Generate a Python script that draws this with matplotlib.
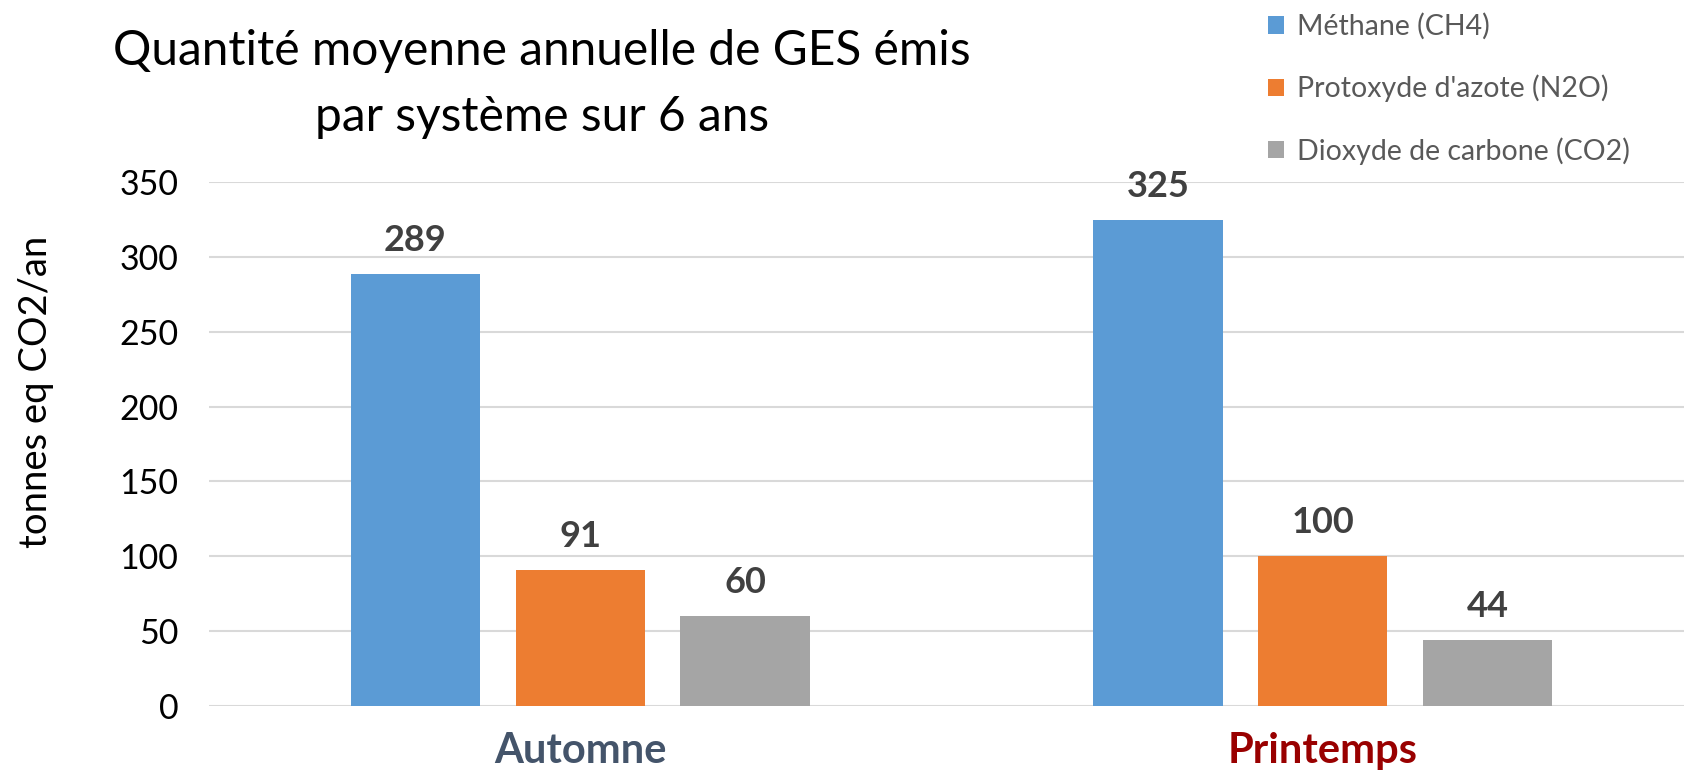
import matplotlib
matplotlib.use("Agg")
import matplotlib.pyplot as plt
import numpy as np

categories = ["Automne", "Printemps"]
series_names = ["Méthane (CH4)", "Protoxyde d'azote (N2O)", "Dioxyde de carbone (CO2)"]
values = {
    "Méthane (CH4)": [289, 325],
    "Protoxyde d'azote (N2O)": [91, 100],
    "Dioxyde de carbone (CO2)": [60, 44],
}
colors = ["#5B9BD5", "#ED7D31", "#A5A5A5"]
cat_colors = ["#44546A", "#990000"]
yticks = [0, 50, 100, 150, 200, 250, 300, 350]
title = "Quantité moyenne annuelle de GES émis\npar système sur 6 ans"
ylabel = "tonnes eq CO2/an"

plt.rcParams['font.family'] = ['Lato', 'DejaVu Sans']

fig = plt.figure(figsize=(16.84, 7.75), dpi=100)
ax = fig.add_axes([0.124, 0.0896, 0.882, 0.675])

x = np.arange(len(categories))
w = 0.174
step = 0.222
for i, name in enumerate(series_names):
    bars = ax.bar(x + (i - 1) * step, values[name], width=w, color=colors[i],
                  label=name, zorder=3)
    for xi, v in zip(x + (i - 1) * step, values[name]):
        ax.annotate(str(v), (xi, v), xytext=(0, 12), textcoords="offset points",
                    ha="center", va="bottom", fontsize=26, fontweight="bold",
                    color="#404040")

ax.set_xlim(-0.5, 1.5)
ax.set_ylim(0, 350)
ax.set_yticks(yticks)
ax.yaxis.grid(True, color="#D9D9D9", linewidth=1.5, zorder=0)
for s in ax.spines.values():
    s.set_visible(False)
ax.tick_params(axis="y", length=0, labelsize=24.5, pad=22, labelcolor="#000000")
ax.tick_params(axis="x", length=0, pad=19)
ax.set_xticks(x)
ax.set_xticklabels(categories, fontsize=30, fontweight="bold")
for lbl, c in zip(ax.get_xticklabels(), cat_colors):
    lbl.set_color(c)
ax.set_ylabel(ylabel, fontsize=27.5)
ax.yaxis.set_label_coords(-0.104, 0.6)

fig.text(0.322, 0.892, title, ha="center", va="center", fontsize=34.5,
         linespacing=1.62)

leg = fig.legend(loc="upper left", bbox_to_anchor=(0.738, 1.016), frameon=False,
                 fontsize=20.5, handlelength=0.55, handleheight=0.55,
                 handletextpad=0.45, labelspacing=1.22, labelcolor="#595959")

fig.savefig("out.png", dpi=100)
